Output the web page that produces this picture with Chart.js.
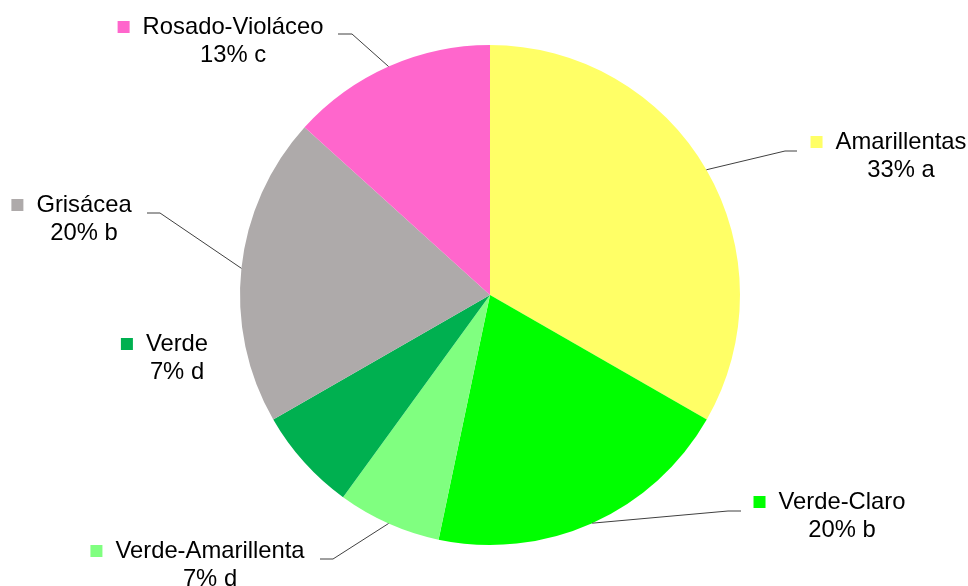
<!DOCTYPE html>
<html>
<head>
<meta charset="utf-8">
<script src="https://cdn.jsdelivr.net/npm/chart.js@4"></script>
<style>
  html, body { margin: 0; padding: 0; background: #fff; }
  #wrap { width: 968px; height: 586px; position: relative; }
</style>
</head>
<body>
<div id="wrap"><canvas id="c" width="968" height="586"></canvas></div>
<script>
const categories = ["Amarillentas", "Verde-Claro", "Verde-Amarillenta", "Verde", "Grisácea", "Rosado-Violáceo"];
const percentages = [33.3, 20, 6.7, 6.7, 20, 13.3];
const letters = ["a", "b", "d", "d", "b", "c"];
const colors = ["#FFFF66", "#00FF00", "#80FF80", "#00B050", "#AEAAAA", "#FF66CC"];

// label layout (text centre x, first line centre y, leader elbow)
const labelLayout = [
  { cx: 901, y: 142, ex: 785, ey: 151, lx: 797, leader: true },
  { cx: 842, y: 502, ex: 728, ey: 511, lx: 741, leader: true },
  { cx: 210, y: 551, ex: 333, ey: 559, lx: 320, leader: true },
  { cx: 177, y: 344, leader: false },
  { cx: 84,  y: 205, ex: 160, ey: 213, lx: 147, leader: true },
  { cx: 233, y: 27,  ex: 352, ey: 34,  lx: 338, leader: true }
];

const labelPlugin = {
  id: 'pieLabels',
  afterDatasetsDraw(chart) {
    const ctx = chart.ctx;
    const meta = chart.getDatasetMeta(0);
    ctx.save();
    ctx.font = '23.8px "Liberation Sans", Arial, sans-serif';
    meta.data.forEach((arc, i) => {
      const L = labelLayout[i];
      const p = arc.getProps(['x', 'y', 'startAngle', 'endAngle', 'outerRadius'], true);
      const mid = (p.startAngle + p.endAngle) / 2;
      const ax = p.x + Math.cos(mid) * p.outerRadius;
      const ay = p.y + Math.sin(mid) * p.outerRadius;
      if (L.leader) {
        ctx.strokeStyle = '#404040';
        ctx.lineWidth = 1;
        ctx.beginPath();
        ctx.moveTo(ax, ay);
        ctx.lineTo(L.ex, L.ey);
        ctx.lineTo(L.lx, L.ey);
        ctx.stroke();
      }
      const name = categories[i];
      const w = ctx.measureText(name).width;
      const left = L.cx - w / 2;
      ctx.fillStyle = colors[i];
      ctx.fillRect(left - 25, L.y - 6, 12, 12);
      ctx.fillStyle = '#000';
      ctx.textAlign = 'center';
      ctx.textBaseline = 'middle';
      ctx.fillText(name, L.cx, L.y);
      ctx.fillText(Math.round(percentages[i]) + '% ' + letters[i], L.cx, L.y + 28);
    });
    ctx.restore();
  }
};

new Chart(document.getElementById('c'), {
  type: 'pie',
  data: {
    labels: categories,
    datasets: [{
      data: percentages,
      backgroundColor: colors,
      borderWidth: 0
    }]
  },
  options: {
    responsive: false,
    animation: false,
    layout: { padding: { top: 45, bottom: 41, left: 240, right: 228 } },
    plugins: {
      legend: { display: false },
      tooltip: { enabled: false }
    }
  },
  plugins: [labelPlugin]
});
</script>
</body>
</html>
